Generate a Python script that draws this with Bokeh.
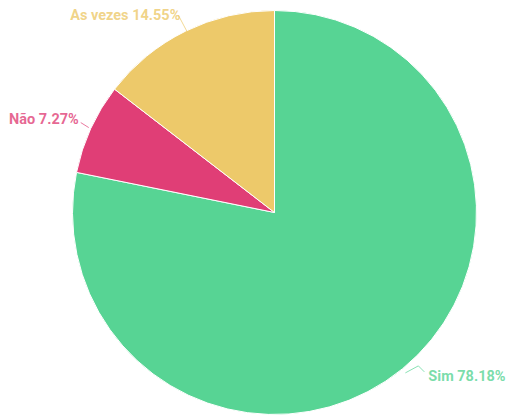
import numpy as np
from bokeh.plotting import figure
from bokeh.models import Range1d
from bokeh.core.properties import value
from bokeh.embed import file_html
from bokeh.resources import INLINE

categories = ["Sim", "Não", "As vezes"]
counts = [43, 4, 8]
colors = ["#57D494", "#E03E76", "#EDC96A"]

W, H = 507, 418
cx, cy, R = 274, H - 212, 202

p = figure(width=W, height=H, output_backend="svg", toolbar_location=None,
           x_range=Range1d(0, W), y_range=Range1d(0, H), min_border=0)
p.axis.visible = False
p.grid.visible = False
p.outline_line_color = None
p.background_fill_color = "white"

total = sum(counts)
fr = np.array(counts) / total
cum = np.concatenate([[0], np.cumsum(fr)])
start = np.pi / 2 - 2 * np.pi * cum[:-1]
end = np.pi / 2 - 2 * np.pi * cum[1:]

p.wedge(x=cx, y=cy, radius=R, start_angle=start, end_angle=end, direction="clock",
        fill_color=colors, line_color="white", line_width=1)

# label line offsets (screen px, y down) relative to slice edge at mid-angle
line_offsets = {
    "Sim": [(3, 4), (16, -3), (22, 3)],
    "Não": [(-2, -1), (-10, -6)],
    "As vezes": [(2, 1), (-7, -16)],
}
text_offsets = {
    "Sim": (26, 8, "left"),
    "Não": (-12, -9, "right"),
    "As vezes": (-5, -16, "right"),
}

mid = (start + end) / 2
for i, cat in enumerate(categories):
    ex = cx + R * np.cos(mid[i])
    ey = cy + R * np.sin(mid[i])
    xs = [ex + dx for dx, dy in line_offsets[cat]]
    ys = [ey - dy for dx, dy in line_offsets[cat]]
    p.line(xs, ys, line_color=colors[i], line_width=1, line_alpha=0.7)
    tdx, tdy, align = text_offsets[cat]
    pct = 100 * fr[i]
    p.text(x=[ex + tdx], y=[ey - tdy], text=[f"{cat} {pct:.2f}%"],
           text_font=value("Roboto"), text_font_style="bold", text_font_size="14.5px",
           text_color=colors[i], text_alpha=0.8, text_align=align, text_baseline="middle")

open("out.html", "w").write(file_html(p, INLINE))
